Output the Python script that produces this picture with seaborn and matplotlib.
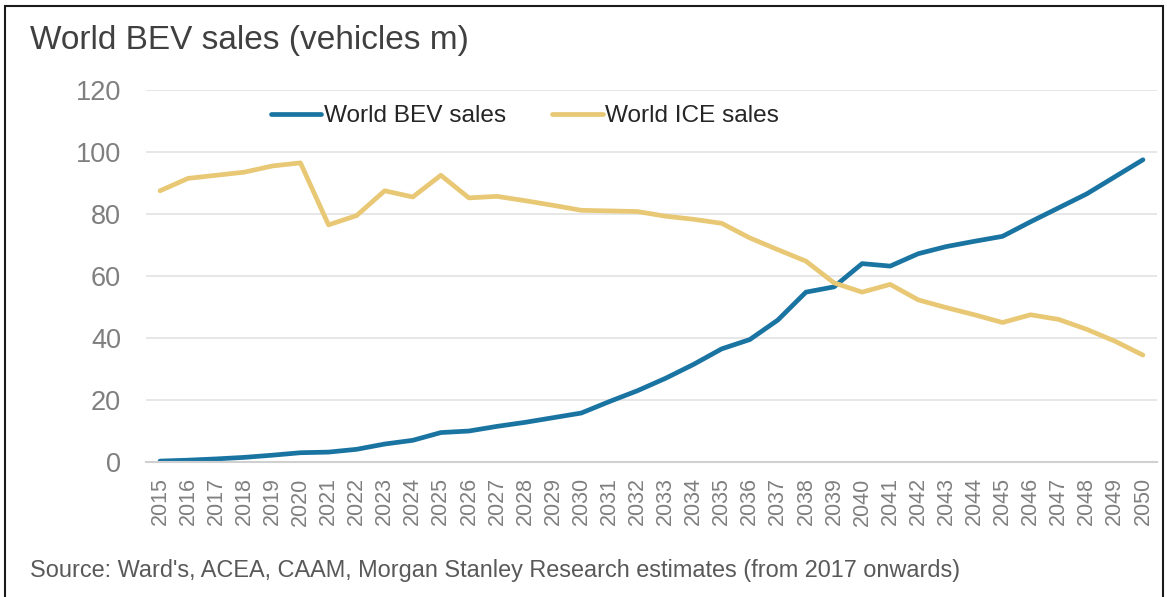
import matplotlib
matplotlib.use("Agg")
import matplotlib.pyplot as plt
import seaborn as sns
import pandas as pd
from matplotlib.patches import Rectangle

years = list(range(2015, 2051))
bev_sales = [0.3, 0.6, 1.0, 1.5, 2.2, 3.0, 3.2, 4.1, 5.8, 7.0,
             9.5, 10.0, 11.5, 12.8, 14.3, 15.8, 19.5, 23.0, 27.0, 31.5,
             36.5, 39.5, 45.8, 54.8, 56.5, 64.0, 63.2, 67.2, 69.5, 71.2,
             72.8, 77.5, 82.0, 86.5, 92.0, 97.5]
ice_sales = [87.5, 91.5, 92.5, 93.5, 95.5, 96.5, 76.5, 79.5, 87.5, 85.5,
             92.5, 85.2, 85.7, 84.3, 82.8, 81.2, 81.0, 80.8, 79.3, 78.3,
             77.0, 72.3, 68.5, 64.8, 57.8, 54.8, 57.3, 52.3, 49.8, 47.5,
             45.0, 47.5, 46.0, 42.8, 39.0, 34.5]
series_names = ["World BEV sales", "World ICE sales"]
y_ticks = [0, 20, 40, 60, 80, 100, 120]
title = "World BEV sales (vehicles m)"
source = "Source: Ward's, ACEA, CAAM, Morgan Stanley Research estimates (from 2017 onwards)"

df = pd.DataFrame({
    "year": years * 2,
    "value": bev_sales + ice_sales,
    "series": [series_names[0]] * len(years) + [series_names[1]] * len(years),
})

sns.set_theme(style="white")
plt.rcParams["font.family"] = ["Liberation Sans", "DejaVu Sans"]

fig = plt.figure(figsize=(11.67, 5.97), dpi=100)
ax = fig.add_axes([0.1251, 0.2261, 0.9914 - 0.1251, 0.8492 - 0.2261])

palette = {series_names[0]: "#1a74a2", series_names[1]: "#e8c874"}
sns.lineplot(data=df, x="year", y="value", hue="series", palette=palette,
             linewidth=3.4, ax=ax, legend=True)

ax.set_xlim(2014.5, 2050.5)
ax.set_ylim(0, 120)
ax.set_yticks(y_ticks)
ax.set_xticks(years)
ax.set_xticklabels([str(y) for y in years], rotation=90, fontsize=15.5, color="#7f7f7f")
ax.set_yticklabels([str(v) for v in y_ticks], fontsize=19.5, color="#7f7f7f")
ax.tick_params(axis="y", length=0, pad=18)
ax.tick_params(axis="x", length=0, pad=11)
ax.set_xlabel("")
ax.set_ylabel("")
ax.grid(axis="y", color="#e3e3e3", linewidth=1.2)
ax.grid(axis="x", visible=False)
for s in ["top", "right", "left"]:
    ax.spines[s].set_visible(False)
ax.spines["bottom"].set_color("#d0d0d0")
ax.spines["bottom"].set_linewidth(1.5)

leg = ax.legend(loc="center", bbox_to_anchor=(0.375, 0.93), ncol=2, frameon=False,
                fontsize=17.6, handlelength=2.05, handletextpad=0.12, columnspacing=1.9)
for t in leg.get_texts():
    t.set_color("#262626")

fig.text(0.026, 0.932, title, fontsize=24, color="#404040", ha="left", va="center")
fig.text(0.026, 0.045, source, fontsize=16.9, color="#595959", ha="left", va="center")

# border around image
fig.add_artist(Rectangle((0.004, -0.01), 0.9925, 1.0, transform=fig.transFigure,
                         fill=False, edgecolor="#1a1a1a", linewidth=1.5))

fig.savefig("out.png", dpi=100)
